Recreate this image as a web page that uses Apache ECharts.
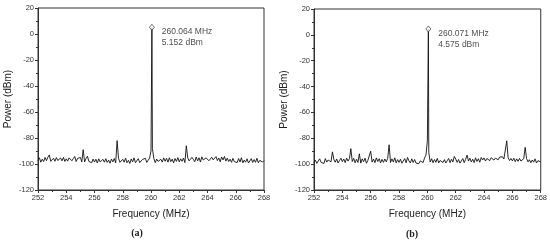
<!DOCTYPE html>
<html>
<head>
<meta charset="utf-8">
<script src="https://cdn.jsdelivr.net/npm/echarts@6/dist/echarts.min.js"></script>
<style>
  html, body { margin: 0; padding: 0; background: #fff; }
  #main { width: 550px; height: 244px; }
</style>
</head>
<body>
<div id="main"></div>
<script>
// sweep: 252 .. 268 MHz, one sample every 0.1 MHz
const freqStart = 252;
const freqStep = 0.1;
const xTicks = [252, 254, 256, 258, 260, 262, 264, 266, 268];
const yTicks = [-120, -100, -80, -60, -40, -20, 0, 20];

// (a) spectrum trace, dBm
const traceA = [
  -97.5, -95.2, -98.6, -96.3, -98.1, -95.0, -97.4, -94.8, -93.0, -97.9,
  -98.2, -95.6, -97.9, -95.1, -97.3, -98.8, -95.4, -97.6, -94.9, -98.0,
  -96.0, -97.8, -95.3, -94.6, -97.5, -95.8, -94.2, -98.1, -95.7, -97.2,
  -95.0, -98.3, -89.0, -98.4, -95.8, -94.0, -98.0, -96.5, -99.0, -96.2,
  -98.5, -96.3, -99.2, -96.0, -98.4, -99.3, -96.4, -98.6, -95.9, -98.8,
  -97.0, -99.4, -96.2, -98.3, -95.8, -99.1, -82.0, -95.6, -98.7, -99.5,
  -96.4, -98.6, -95.5, -99.0, -97.2, -99.6, -96.1, -98.4, -95.3, -99.0,
  -98.1, -95.9, -98.9, -99.7, -96.5, -97.8, -95.6, -98.8, -97.1, -95.4,
  -90.0, -88.0, -95.6, -99.0, -96.2, -98.0, -99.4, -96.4, -98.5, -95.3,
  -97.9, -95.6, -98.6, -95.2, -98.2, -96.3, -99.1, -95.8, -98.0, -95.1,
  -98.4, -96.0, -97.9, -95.4, -98.9, -86.0, -95.3, -97.6, -98.7, -94.9,
  -96.5, -98.3, -94.6, -97.6, -95.2, -98.5, -94.5, -96.9, -98.1, -95.3,
  -94.4, -97.5, -98.4, -94.8, -96.8, -98.2, -94.3, -97.3, -95.4, -98.3,
  -94.6, -96.9, -94.2, -97.8, -95.5, -98.1, -96.3, -98.7, -95.7, -98.2,
  -97.3, -98.9, -95.8, -98.5, -95.2, -99.1, -97.0, -98.6, -96.0, -99.2,
  -97.6, -95.9, -98.8, -96.6, -98.7, -95.6, -99.1, -97.2, -96.3, -98.5,
  -97.4
];
const peakA = [260.064, 5.152];

// (b) spectrum trace, dBm
const traceB = [
  -98.8, -97.0, -99.4, -97.5, -95.9, -98.6, -97.3, -99.5, -95.7, -98.4,
  -96.8, -95.6, -98.2, -90.5, -96.3, -98.5, -96.0, -99.1, -97.2, -95.4,
  -98.1, -96.0, -98.8, -95.3, -97.6, -95.8, -88.0, -98.0, -95.5, -98.9,
  -96.2, -98.7, -92.0, -99.2, -95.9, -98.1, -95.4, -99.3, -97.1, -96.1,
  -90.0, -98.4, -96.1, -98.9, -95.2, -98.0, -95.8, -99.0, -96.3, -98.6,
  -96.0, -98.2, -95.6, -85.0, -98.7, -95.9, -98.4, -95.1, -99.0, -96.5,
  -98.6, -96.2, -99.3, -97.8, -95.7, -98.9, -94.8, -97.5, -99.1, -95.9,
  -98.7, -96.4, -99.2, -97.9, -99.6, -97.5, -96.1, -98.8, -95.3, -93.0,
  -82.0, -91.0, -98.3, -95.8, -98.9, -96.4, -98.6, -95.5, -99.0, -97.2,
  -95.9, -98.7, -96.5, -99.1, -97.4, -95.6, -98.8, -96.2, -98.4, -94.0,
  -96.0, -98.6, -96.4, -99.2, -97.7, -95.7, -98.9, -96.3, -93.0, -97.6,
  -95.4, -98.3, -96.2, -98.8, -95.1, -97.9, -95.8, -98.5, -94.9, -96.8,
  -95.2, -97.6, -95.6, -94.6, -97.3, -95.0, -94.4, -96.9, -95.3, -94.7,
  -96.6, -94.5, -95.9, -94.3, -96.0, -95.4, -82.0, -95.1, -97.2, -95.6,
  -97.5, -95.4, -98.1, -95.9, -97.8, -95.6, -97.6, -98.4, -95.8, -87.0,
  -95.7, -98.2, -96.6, -98.9, -96.8, -98.5, -95.9, -99.1, -97.3, -98.6,
  -98.3
];
const peakB = [260.071, 4.575];

const fontSans = '"Liberation Sans", Arial, sans-serif';

// trace + peak sample, in frequency order
function buildLine(trace, peak) {
  let pts = trace.map((v, i) => [+(freqStart + i * freqStep).toFixed(1), v]);
  pts.push(peak);
  pts.sort((a, b) => a[0] - b[0]);
  return pts;
}

function axisX(idx) {
  return {
    gridIndex: idx,
    type: 'value',
    min: xTicks[0],
    max: xTicks[xTicks.length - 1],
    interval: 2,
    name: 'Frequency (MHz)',
    nameLocation: 'middle',
    nameGap: 19,
    nameTextStyle: { fontFamily: fontSans, fontSize: 10, color: '#222' },
    axisLine: { onZero: false, lineStyle: { color: '#333', width: 1 } },
    axisTick: { inside: false, length: 3, lineStyle: { color: '#333' } },
    minorTick: { show: true, splitNumber: 2, length: 2, lineStyle: { color: '#333' } },
    axisLabel: { fontFamily: fontSans, fontSize: 7.5, color: '#333', margin: 4 },
    splitLine: { show: false }
  };
}

function axisY(idx) {
  return {
    gridIndex: idx,
    type: 'value',
    min: yTicks[0],
    max: yTicks[yTicks.length - 1],
    interval: 20,
    name: 'Power (dBm)',
    nameLocation: 'middle',
    nameGap: 25,
    nameTextStyle: { fontFamily: fontSans, fontSize: 10, color: '#222' },
    axisLine: { onZero: false, lineStyle: { color: '#333', width: 1 } },
    axisTick: { inside: false, length: 3, lineStyle: { color: '#333' } },
    minorTick: { show: true, splitNumber: 2, length: 2, lineStyle: { color: '#333' } },
    axisLabel: { fontFamily: fontSans, fontSize: 7.5, color: '#333', margin: 4 },
    splitLine: { show: false }
  };
}

function peakMarker(idx, peak) {
  return {
    type: 'scatter',
    xAxisIndex: idx,
    yAxisIndex: idx,
    data: [peak],
    symbol: 'diamond',
    symbolSize: [5, 6],
    z: 5,
    itemStyle: { color: '#fff', borderColor: '#222', borderWidth: 0.8 },
    label: {
      show: true,
      position: 'right',
      distance: 7,
      verticalAlign: 'top',
      offset: [0, -1],
      lineHeight: 11,
      fontFamily: fontSans,
      fontSize: 8.5,
      color: '#222',
      formatter: () => peak[0].toFixed(3) + ' MHz\n' + peak[1].toFixed(3) + ' dBm'
    }
  };
}

const myChart = echarts.init(document.getElementById('main'));

const option = {
  animation: false,
  backgroundColor: '#fff',
  grid: [
    { left: 38, top: 8, width: 226, height: 182, show: true, borderColor: '#333', borderWidth: 1 },
    { left: 314, top: 9, width: 227, height: 181, show: true, borderColor: '#333', borderWidth: 1 }
  ],
  xAxis: [axisX(0), axisX(1)],
  yAxis: [axisY(0), axisY(1)],
  series: [
    {
      type: 'line',
      xAxisIndex: 0,
      yAxisIndex: 0,
      data: buildLine(traceA, peakA),
      showSymbol: false,
      lineStyle: { color: '#111', width: 0.9 }
    },
    peakMarker(0, peakA),
    {
      type: 'line',
      xAxisIndex: 1,
      yAxisIndex: 1,
      data: buildLine(traceB, peakB),
      showSymbol: false,
      lineStyle: { color: '#111', width: 0.9 }
    },
    peakMarker(1, peakB)
  ],
  graphic: [
    { type: 'text', x: 137, y: 233, style: { text: '(a)', font: 'bold 10px "Liberation Serif", serif', fill: '#222', textAlign: 'center', textVerticalAlign: 'middle' } },
    { type: 'text', x: 412, y: 234, style: { text: '(b)', font: 'bold 10px "Liberation Serif", serif', fill: '#222', textAlign: 'center', textVerticalAlign: 'middle' } }
  ]
};

myChart.setOption(option);
</script>
</body>
</html>
